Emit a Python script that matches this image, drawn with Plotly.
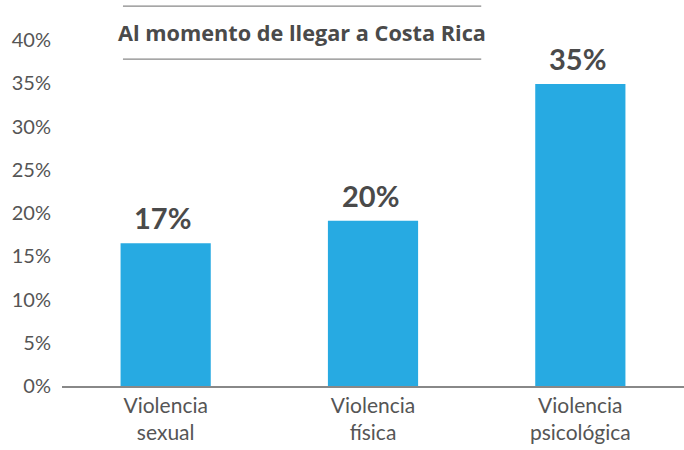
import plotly.graph_objects as go

categories = ["Violencia<br>sexual", "Violencia<br>física", "Violencia<br>psicológica"]
values = [16.5, 19.1, 34.9]
value_labels = ["17%", "20%", "35%"]
tick_vals = [0, 5, 10, 15, 20, 25, 30, 35, 40]
tick_text = ["0%", "5%", "10%", "15%", "20%", "25%", "30%", "35%", "40%"]
title_text = "Al momento de llegar a Costa Rica"

FONT = "Lato"
GRAY = "#4a4a4a"

fig = go.Figure(go.Bar(
    x=categories,
    y=values,
    marker=dict(color="#27aae2", line=dict(width=0)),
    hoverinfo="skip",
))

annotations = [
    dict(x=c, y=v, text="<b>" + t + "</b>", xref="x", yref="y",
         showarrow=False, xanchor="center", yanchor="bottom", yshift=6, xshift=-3,
         font=dict(family=FONT, size=29, color=GRAY))
    for c, v, t in zip(categories, values, value_labels)
]
annotations.append(dict(
    text="<b>" + title_text + "</b>", xref="paper", yref="paper",
    x=0.386, y=1.023, showarrow=False, xanchor="center", yanchor="middle",
    font=dict(family="Open Sans", size=21.7, color=GRAY),
))

fig.update_layout(
    width=684, height=450,
    margin=dict(l=62, r=0, t=40, b=64),
    plot_bgcolor="white", paper_bgcolor="white",
    bargap=0.565,
    showlegend=False,
    font=dict(family=FONT, color=GRAY),
    xaxis=dict(
        showline=True, linecolor="#888888", linewidth=1.5,
        showgrid=False, ticks="", zeroline=False, automargin=False,
        tickfont=dict(family=FONT, size=21, color="#555555"),
    ),
    yaxis=dict(
        range=[0, 40], tickvals=tick_vals, ticktext=tick_text,
        showgrid=False, zeroline=False, showline=False, ticks="",
        automargin=False,
        tickfont=dict(family=FONT, size=20, color="#555555"),
        ticklabelstandoff=10,
    ),
    annotations=annotations,
    shapes=[
        dict(type="line", xref="paper", yref="paper", x0=0.098, x1=0.674,
             y0=1.098, y1=1.098, line=dict(color="#888888", width=1.2)),
        dict(type="line", xref="paper", yref="paper", x0=0.098, x1=0.674,
             y0=0.945, y1=0.945, line=dict(color="#888888", width=1.2)),
    ],
)

fig.write_html(
    "out.html",
    config={"displayModeBar": False},
    post_script="document.body.style.margin='0';document.body.style.overflow='hidden';",
)
